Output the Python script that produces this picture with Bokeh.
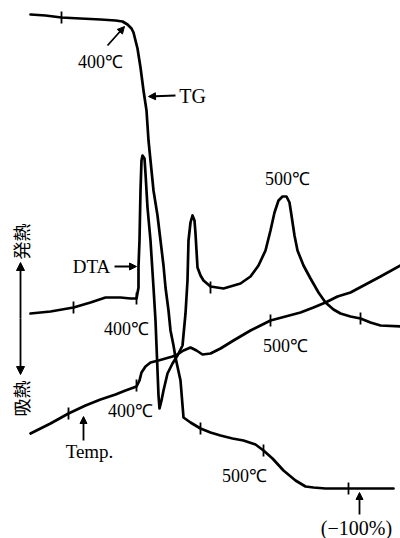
import math
from bokeh.plotting import figure
from bokeh.models import Range1d, Label, Arrow, NormalHead
from bokeh.embed import file_html
from bokeh.resources import INLINE

# Curve traces (chart units: x to the right, y downward)
tg_x = [30, 45, 61, 80, 100, 115, 122, 127, 131, 133, 137, 140, 143, 146, 148, 150, 153, 157, 160, 163,
        165, 168, 170, 173, 175, 180, 183, 190, 200, 210, 220, 232, 243, 255, 263, 272, 283, 295, 305,
        313, 325, 348, 370, 393]
tg_y = [14, 15, 17, 18, 19, 20, 21, 24, 28, 32, 48, 67, 90, 110, 140, 160, 190, 215, 240, 265,
        287, 310, 330, 345, 357, 380, 417, 422, 428, 432, 435, 438, 440, 444, 450, 458, 470, 480, 486,
        487, 488, 488, 488, 488]

dta_x = [30, 50, 73, 90, 105, 120, 130, 136, 138, 138, 139, 140, 141, 142, 144, 145, 147, 150, 153, 155,
         156, 157, 158, 159, 161, 163, 167, 172, 177, 182, 185, 187, 188, 190, 192, 194, 195, 196, 197,
         200, 203, 210, 223, 240, 250, 258, 265, 270, 274, 278, 282, 286, 289, 291, 294, 297, 303, 310,
         318, 325, 333, 340, 350, 360, 370, 380, 400]
dta_y = [313, 311, 307, 302, 297, 297, 298, 298, 287, 266, 240, 190, 160, 155, 158, 173, 207, 240, 287, 320,
         345, 370, 395, 408, 400, 390, 373, 363, 355, 345, 313, 280, 240, 222, 215, 220, 233, 250, 267,
         275, 280, 286, 288, 283, 276, 265, 250, 230, 212, 200, 196, 196, 202, 215, 235, 250, 265, 278,
         292, 302, 309, 313, 316, 318, 322, 325, 326]

temp_x = [30, 50, 68, 85, 100, 115, 125, 136, 139, 141, 145, 150, 158, 165, 172, 177, 183, 190, 196, 202,
          210, 220, 233, 250, 260, 270, 285, 300, 313, 325, 337, 350, 365, 380, 400]
temp_y = [433, 423, 413, 405, 399, 394, 390, 386, 380, 372, 366, 362, 360, 358, 356, 354, 350, 347, 350, 354,
          353, 348, 340, 330, 325, 320, 316, 312, 307, 302, 296, 292, 284, 276, 265]

# Temperature marks on the curves
tick_x = [61, 200, 263, 348, 73, 136, 210, 360, 68, 136, 270]
tick_y = [17, 428, 450, 488, 307, 298, 287, 318, 413, 385, 320]

p = figure(width=400, height=538, output_backend="svg", toolbar_location=None,
           x_range=Range1d(0, 400), y_range=Range1d(538, 0), min_border=0)
p.axis.visible = False
p.grid.visible = False
p.outline_line_color = None
p.background_fill_color = "white"

LW = 2.7
p.line(tg_x, tg_y, line_color="black", line_width=LW, line_join="round", line_cap="round")
p.line(dta_x, dta_y, line_color="black", line_width=LW, line_join="round", line_cap="round")
p.line(temp_x, temp_y, line_color="black", line_width=LW, line_join="round", line_cap="round")
p.segment(x0=tick_x, x1=tick_x, y0=[v - 6 for v in tick_y], y1=[v + 6 for v in tick_y],
          line_color="black", line_width=1.8)

SERIF = "Liberation Serif"

def lab(x, y, t, size="17px", font=SERIF, angle=0.0):
    p.add_layout(Label(x=x, y=y, text=t, text_font=font, text_font_size=size,
                       text_align="center", text_baseline="middle", text_color="black",
                       angle=angle))

def arr(x0, y0, x1, y1, both=False, size=7):
    kw = dict(end=NormalHead(size=size, fill_color="black", line_color="black"))
    p.add_layout(Arrow(x_start=x0, y_start=y0, x_end=x1, y_end=y1,
                       line_color="black", line_width=1.8, **kw))

lab(100, 61, "400℃", size="18px")
arr(107, 45, 124, 26)
lab(192, 95, "TG", size="20px")
arr(175, 95, 148, 96)
lab(91, 266, "DTA", size="19px")
arr(114, 266, 136, 266)
lab(126, 328, "400℃", size="18px")
lab(130, 410, "400℃", size="18px")
lab(89, 451, "Temp.", size="19px")
arr(83, 440, 83, 416)
lab(287, 178, "500℃", size="18px")
lab(285, 345, "500℃", size="18px")
lab(244, 475, "500℃", size="18px")
lab(356, 527, "(−100%)", size="20px")
arr(359, 514, 359, 492)

# heat-flow direction
arr(20, 318, 20, 262, size=8)
arr(20, 318, 20, 374, size=8)
lab(20, 241, "発熱", size="18px", font="Noto Sans CJK JP", angle=math.pi / 2)
lab(20, 398, "吸熱", size="18px", font="Noto Sans CJK JP", angle=math.pi / 2)

open("out.html", "w").write(file_html(p, INLINE))
